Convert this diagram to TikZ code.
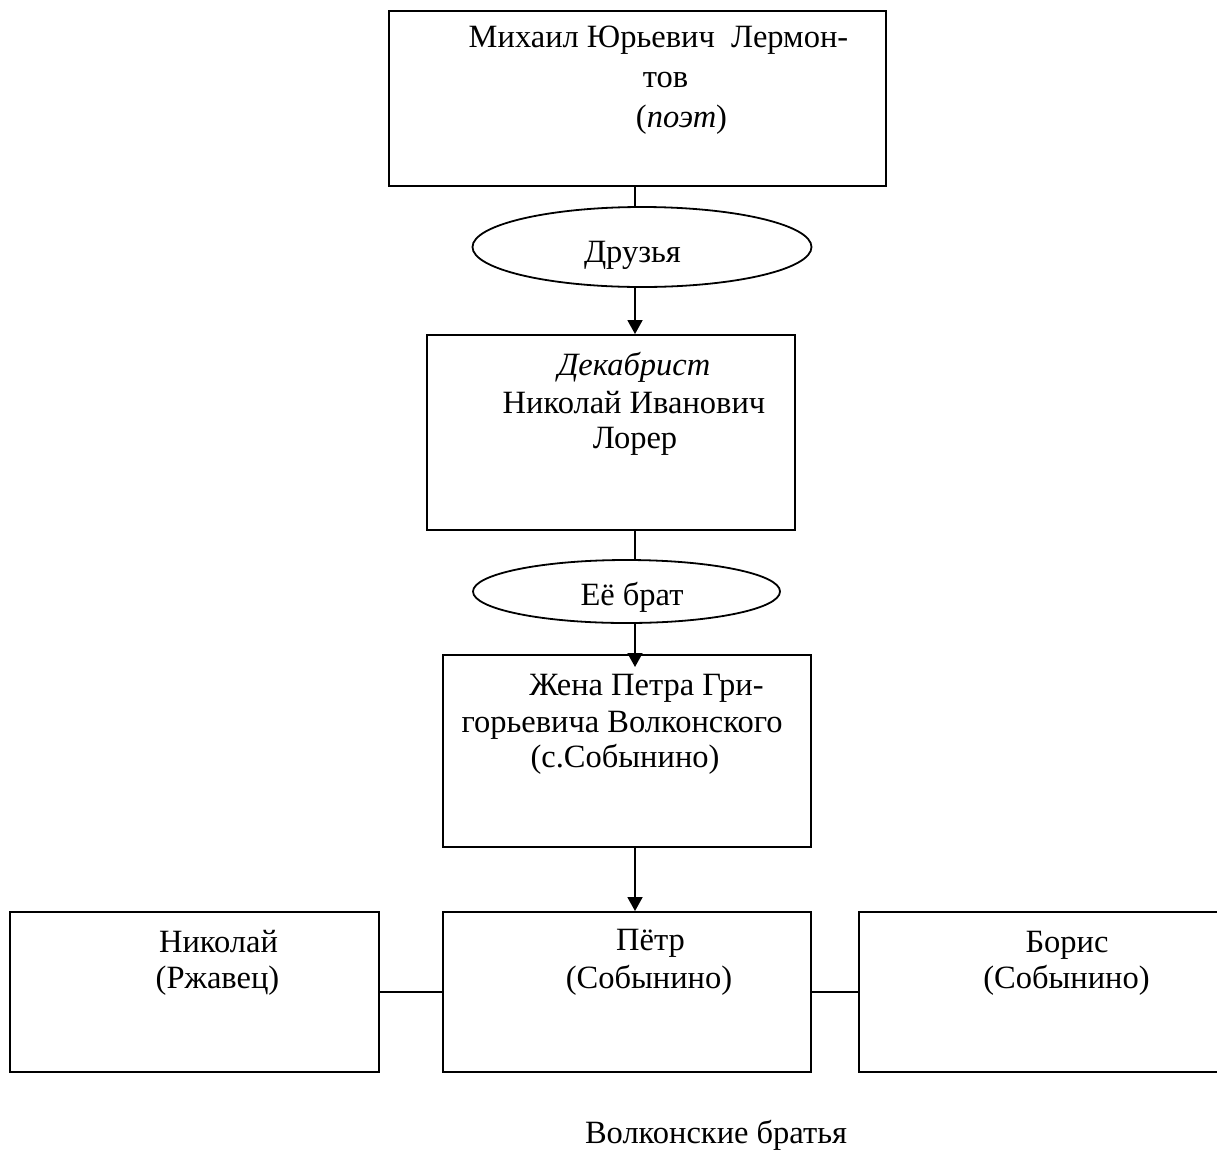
\documentclass[tikz,border=0pt]{standalone}
\usepackage{fontspec}
\setmainfont{Liberation Serif}
\usetikzlibrary{arrows.meta,shapes.geometric}
\tikzset{
  box/.style={draw, line width=1.9pt, rectangle, inner sep=0pt},
  oval/.style={draw, line width=1.8pt, ellipse, inner sep=0pt},
  txt/.style={anchor=base, inner sep=0pt, font=\fontsize{32.5}{38}\selectfont},
  link/.style={line width=1.8pt},
  arr/.style={line width=1.8pt, -{Triangle[width=15pt,length=14pt]}},
}
\begin{document}
\begin{tikzpicture}[x=1pt,y=-1pt]
\useasboundingbox (0,0) rectangle (1217,1149);
\clip (0,0) rectangle (1217,1149);
% boxes
\node[box, minimum width=497pt, minimum height=175pt] (poet) at (637.5,98.5) {};
\node[oval, minimum width=339pt, minimum height=80pt] (friends) at (642,247) {};
\node[box, minimum width=368pt, minimum height=195pt] (lorer) at (611,432.5) {};
\node[oval, minimum width=307pt, minimum height=63pt] (brother) at (626.5,591.5) {};
\node[box, minimum width=368pt, minimum height=192pt] (wife) at (627,751) {};
\node[box, minimum width=368pt, minimum height=160pt] (petr) at (627,992) {};
\node[box, minimum width=369pt, minimum height=160pt] (nikolai) at (194.5,992) {};
\node[box, minimum width=400pt, minimum height=160pt] (boris) at (1059,992) {};
% texts
\node[txt] (t1) at (658.5,47) {Михаил Юрьевич\ \ Лермон-};
\node[txt] (t2) at (665.5,87) {тов};
\node[txt] (t3) at (681.5,127) {(\textit{поэт})};
\node[txt] (t4) at (632.5,262) {Друзья};
\node[txt] (t5) at (634,375) {\textit{Декабрист}};
\node[txt] (t6) at (634,413) {Николай Иванович};
\node[txt] (t7) at (635,448) {Лорер};
\node[txt] (t8) at (632,605) {Её брат};
\node[txt] (t9) at (646.5,695) {Жена Петра Гри-};
\node[txt] (t10) at (622,732) {горьевича Волконского};
\node[txt] (t11) at (625,767) {(с.Собынино)};
\node[txt] (t12) at (218.5,952) {Николай};
\node[txt] (t13) at (217.5,988) {(Ржавец)};
\node[txt] (t14) at (650.5,950) {Пётр};
\node[txt] (t15) at (649,988) {(Собынино)};
\node[txt] (t16) at (1067,952) {Борис};
\node[txt] (t17) at (1066.5,988) {(Собынино)};
\node[txt] (cap) at (716,1143) {Волконские братья};
% connectors
\coordinate (spine) at (635,0);
\coordinate (tip2) at (635,667);
\draw[link] (spine |- poet.south) -- (spine |- friends.north);
\draw[arr] (spine |- friends.south) -- (spine |- lorer.north);
\draw[link] (spine |- lorer.south) -- (spine |- brother.north);
\draw[arr] (spine |- brother.south) -- (tip2);
\draw[arr] (spine |- wife.south) -- (spine |- petr.north);
\draw[link] (nikolai.east) -- (petr.west);
\draw[link] (petr.east) -- (boris.west);
\end{tikzpicture}
\end{document}
